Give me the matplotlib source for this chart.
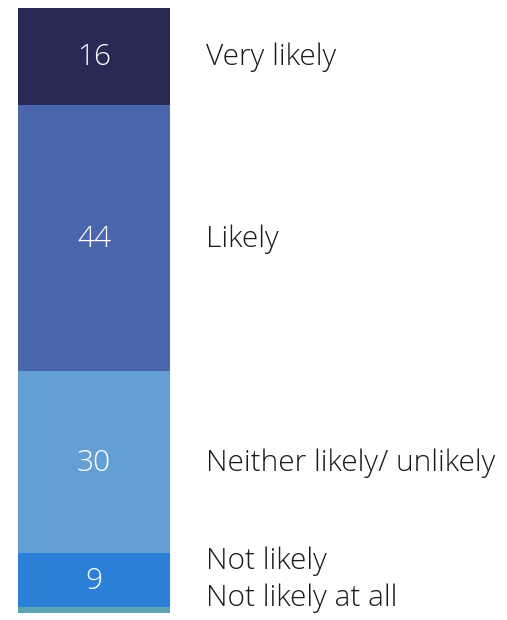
import matplotlib
matplotlib.use("Agg")
import matplotlib.pyplot as plt
import matplotlib.transforms as mtransforms

# data, bottom to top
categories = ["Not likely at all", "Not likely", "Neither likely/ unlikely", "Likely", "Very likely"]
values = [1, 9, 30, 44, 16]
shown = ["", "9", "30", "44", "16"]
colors = ["#5aa3b0", "#2b7fd6", "#639fd2", "#4a66ad", "#262a55"]

plt.rcParams["font.family"] = ["Open Sans", "DejaVu Sans"]

W, H = 507, 620
fig = plt.figure(figsize=(W / 100, H / 100), dpi=100)
ax = fig.add_axes([18 / W, 7 / H, 152 / W, 605 / H])

FS = 21.5
bottom = 0
centers = []
for v, c, s in zip(values, colors, shown):
    ax.bar(0, v, width=1, bottom=bottom, color=c, linewidth=0)
    centers.append(bottom + v / 2)
    if s:
        off = mtransforms.offset_copy(ax.transData, fig=fig, x=0, y=-9, units="dots")
        ax.text(0, bottom + v / 2, s, ha="center", va="baseline", color="white",
                fontsize=FS, fontweight="light", transform=off)
    bottom += v

ax.set_xlim(-0.5, 0.5)
ax.set_ylim(0, sum(values))
ax.axis("off")

# category labels right of the bar; the two small ones are nudged up
trans = mtransforms.blended_transform_factory(ax.transAxes, ax.transData)
shift = {"Not likely": 11, "Not likely at all": 4}
for name, y in zip(categories, centers):
    off = mtransforms.offset_copy(trans, fig=fig, x=0, y=shift.get(name, -9), units="dots")
    ax.text((206 - 18) / 152, y, name, ha="left", va="baseline", color="#1a1a1a",
            fontsize=FS, fontweight="light", transform=off)

fig.savefig("out.png", dpi=100)
